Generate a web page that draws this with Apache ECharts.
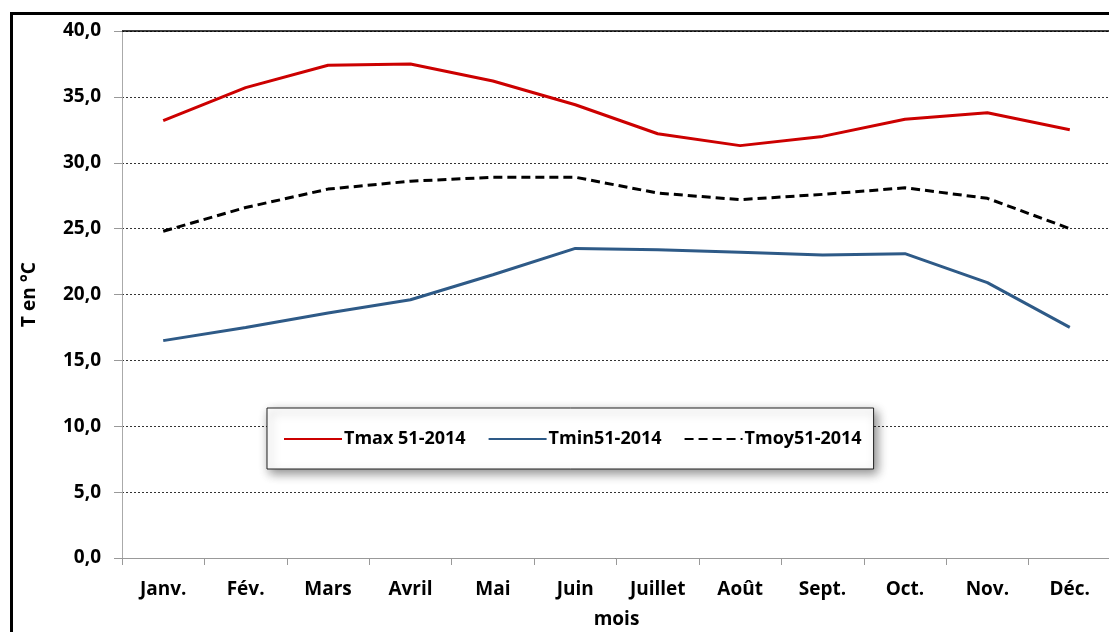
<!DOCTYPE html>
<html>
<head>
<meta charset="utf-8">
<script src="https://cdn.jsdelivr.net/npm/echarts@6/dist/echarts.min.js"></script>
<style>
  html, body { margin: 0; padding: 0; background: #fff; }
  #main { width: 1109px; height: 632px; }
</style>
</head>
<body>
<div id="main"></div>
<script>
// mois
const months = ['Janv.', 'Fév.', 'Mars', 'Avril', 'Mai', 'Juin', 'Juillet', 'Août', 'Sept.', 'Oct.', 'Nov.', 'Déc.']
// températures en °C
const tmax = [33.2, 35.7, 37.4, 37.5, 36.2, 34.4, 32.2, 31.3, 32.0, 33.3, 33.8, 32.5]
const tmin = [16.5, 17.5, 18.6, 19.6, 21.5, 23.5, 23.4, 23.2, 23.0, 23.1, 20.9, 17.5]
const tmoy = [24.8, 26.6, 28.0, 28.6, 28.9, 28.9, 27.7, 27.2, 27.6, 28.1, 27.3, 25.0]

const fontFam = '"Open Sans", "DejaVu Sans", sans-serif'

const chart = echarts.init(document.getElementById('main'))
chart.setOption({
  animation: false,
  backgroundColor: '#fff',
  grid: { left: 122, top: 31, right: -2, bottom: 74, outerBoundsMode: 'none', containLabel: false },
  graphic: [{
    type: 'rect',
    shape: { x: 11.5, y: 13.5, width: 1200, height: 700 },
    style: { fill: 'none', stroke: '#000', lineWidth: 3 },
    silent: true
  }],
  legend: {
    left: 267, top: 408,
    padding: [22, 12, 21, 16],
    itemWidth: 58, itemHeight: 18, itemGap: 22,
    backgroundColor: '#fff',
    borderColor: '#222', borderWidth: 1,
    shadowBlur: 10, shadowColor: 'rgba(0,0,0,0.45)', shadowOffsetX: 3, shadowOffsetY: 4,
    itemStyle: { opacity: 0 },
    textStyle: { fontFamily: fontFam, fontWeight: 'bold', fontSize: 18, color: '#000', padding: [0, 0, 0, -3] },
    data: ['Tmax 51-2014', 'Tmin51-2014', 'Tmoy51-2014']
  },
  xAxis: {
    type: 'category',
    data: months,
    name: 'mois',
    nameLocation: 'middle',
    nameGap: 52,
    nameTextStyle: { fontFamily: fontFam, fontWeight: 'bold', fontSize: 19, color: '#000' },
    axisLine: { lineStyle: { color: '#999' } },
    axisTick: { show: true, length: 7, lineStyle: { color: '#999' } },
    axisLabel: { margin: 22, fontFamily: fontFam, fontWeight: 'bold', fontSize: 19, color: '#000' }
  },
  yAxis: {
    type: 'value',
    min: 0, max: 40, interval: 5,
    name: 'T en °C',
    nameLocation: 'middle',
    nameGap: 83,
    nameTextStyle: { fontFamily: fontFam, fontWeight: 'bold', fontSize: 19, color: '#000' },
    axisLine: { show: true, lineStyle: { color: '#aaa' } },
    axisTick: { show: true, length: 8, lineStyle: { color: '#999' } },
    axisLabel: {
      margin: 21, fontFamily: fontFam, fontWeight: 'bold', fontSize: 19, color: '#000',
      formatter: v => v.toFixed(1).replace('.', ',')
    },
    splitLine: { show: true, lineStyle: { color: '#333', type: [2, 2], width: 1 } }
  },
  series: [
    {
      name: 'Tmax 51-2014', type: 'line', data: tmax,
      symbol: 'none', lineStyle: { color: '#cc0000', width: 3 }, itemStyle: { color: '#cc0000' }
    },
    {
      name: 'Tmin51-2014', type: 'line', data: tmin,
      symbol: 'none', lineStyle: { color: '#2e5a87', width: 3 }, itemStyle: { color: '#2e5a87' }
    },
    {
      name: 'Tmoy51-2014', type: 'line', data: tmoy,
      symbol: 'none', lineStyle: { color: '#000', width: 3, type: [9, 5] }, itemStyle: { color: '#000' }
    },
    {
      // bordure supérieure de la zone de tracé
      type: 'line', data: [], silent: true,
      markLine: {
        symbol: 'none', silent: true, label: { show: false },
        lineStyle: { color: '#000', type: 'solid', width: 1.5 },
        data: [{ yAxis: 40 }]
      }
    }
  ]
})
</script>
</body>
</html>
